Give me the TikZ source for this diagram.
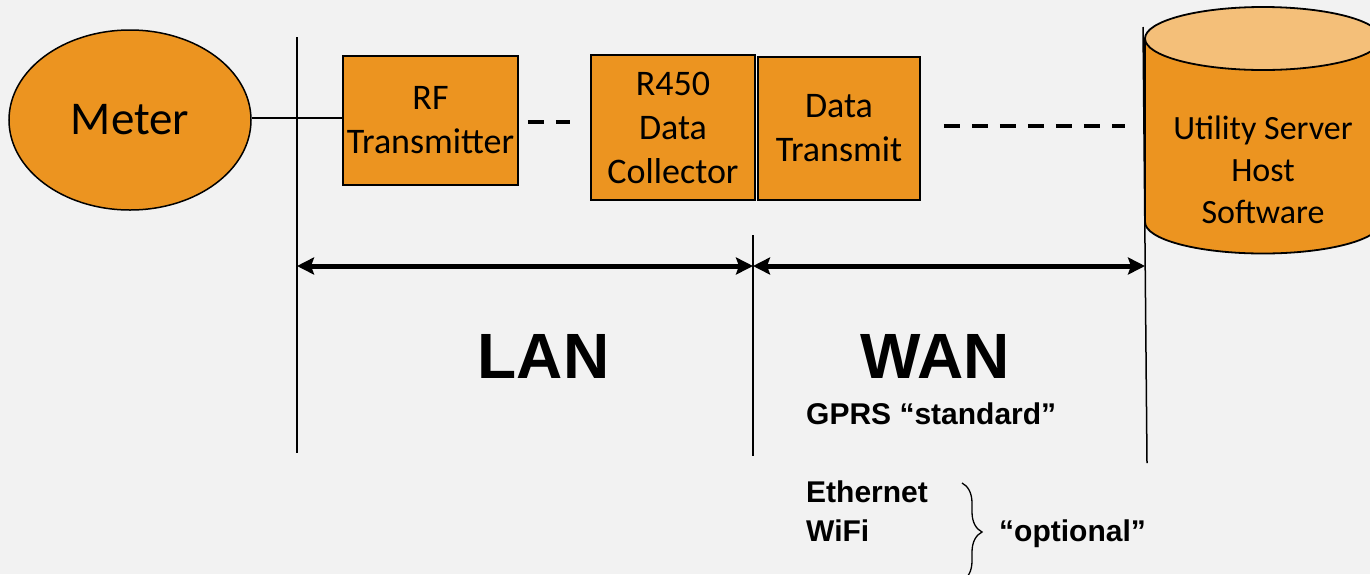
\documentclass[tikz,border=0pt]{standalone}
\usepackage{fontspec}
\setmainfont{Carlito}
\newfontfamily\arialfont{Liberation Sans}
\usetikzlibrary{arrows.meta,decorations.pathreplacing,shapes.geometric}
\definecolor{bg}{HTML}{F2F2F2}
\definecolor{orng}{HTML}{EC9420}
\definecolor{ltorng}{HTML}{F4BF79}
\begin{document}
\begin{tikzpicture}[x=1pt,y=-1pt,
  box/.style={draw=black,line width=1.8pt,fill=orng,inner sep=0pt,align=center,
    font=\fontsize{36}{44}\selectfont},
  vline/.style={line width=1.5pt},
  span/.style={line width=5pt,
    {Stealth[length=17pt,width=17pt,inset=3pt]}-{Stealth[length=17pt,width=17pt,inset=3pt]}},
  dashcon/.style={line width=4pt,dash pattern=on 16pt off 12pt},
  bigbold/.style={font=\arialfont\bfseries\fontsize{64}{70}\selectfont,anchor=base,inner sep=0pt},
  smallbold/.style={font=\arialfont\bfseries\fontsize{30}{40}\selectfont,anchor=base west,inner sep=0pt},
]
\useasboundingbox (0,0) rectangle (1370,574);
\fill[bg] (0,0) rectangle (1370,574);

% cylinder (server)
\path[draw,line width=1.8pt,fill=orng] (1145,38.5) -- (1145,222)
  arc[start angle=180,end angle=0,x radius=118,y radius=31.5] -- (1381,38.5) -- cycle;
\draw[line width=1.8pt,fill=ltorng] (1263,38.5) ellipse[x radius=118,y radius=31.5];
\node[align=center,inner sep=0pt,font=\fontsize{34}{42}\selectfont] (server) at (1263,170)
  {Utility Server\\Host\\Software};
\coordinate (cylW) at (1145,126);

% vertical lines
\coordinate (v1t) at (297,37);
\coordinate (v1b) at (297,453);
\coordinate (v2t) at (753,235);
\coordinate (v2b) at (753,456);
\coordinate (v3t) at (1143,27);
\coordinate (v3b) at (1147,463);
\draw[vline] (v1t) -- (v1b);
\draw[vline] (v2t) -- (v2b);
\draw[vline] (v3t) -- (v3b);

% nodes
\node[ellipse,draw,line width=1.5pt,fill=orng,minimum width=242pt,minimum height=180pt,
  inner sep=0pt,font=\fontsize{47}{50}\selectfont] (meter) at (130,120) {Meter};
\node[box,minimum width=175pt,minimum height=129pt] (rf) at (430.5,120.5) {RF\\Transmitter};
\node[box,minimum width=164pt,minimum height=145pt] (r450) at (673,127.5) {R450\\Data\\Collector};
\node[box,minimum width=162pt,minimum height=143pt] (dt) at (839,128.5) {Data\\Transmit};

% connectors
\draw[line width=1.5pt] ([yshift=2pt]meter.east) -- ([yshift=2pt]meter.east -| rf.west);
\draw[dashcon,shorten <=9pt,shorten >=20pt] ([yshift=-1.5pt]rf.east) -- ([yshift=-1.5pt]rf.east -| r450.west);
\draw[dashcon,shorten <=23pt,shorten >=20pt] (dt.east |- cylW) -- (cylW);

% spans
\coordinate (a1) at (297,266);
\coordinate (a2) at (753,266);
\coordinate (a3) at (1145,266);
\draw[span] (a1) -- (a2);
\draw[span] (a2) -- (a3);

% labels
\node[bigbold] (lan) at (543.5,378) {LAN};
\node[bigbold] (wan) at (935,378) {WAN};
\node[smallbold] (gprs) at (806,424) {GPRS “standard”};
\node[smallbold] (eth) at (806,502) {Ethernet};
\node[smallbold] (wifi) at (806,541) {WiFi};
\node[smallbold] (opt) at (999,541) {“optional”};

% brace
\coordinate (bt) at (962,483);
\coordinate (bb) at (962,581);
\draw[line width=1.3pt,decorate,decoration={brace,amplitude=20pt}] (bt) -- (bb);
\end{tikzpicture}
\end{document}
